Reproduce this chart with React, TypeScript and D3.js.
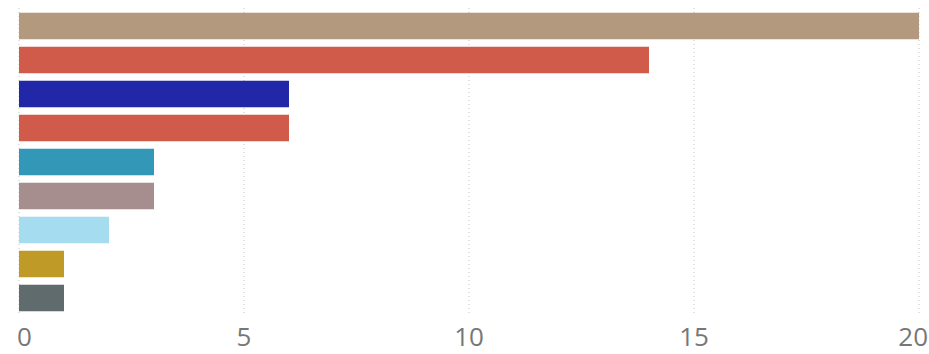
import React from "react";
import * as d3 from "d3";

const categories = ["A", "B", "C", "D", "E", "F", "G", "H", "I"];
const values = [20, 14, 6, 6, 3, 3, 2, 1, 1];
const colors = ["#B39A7E", "#D05B4A", "#2227A8", "#D05B4A", "#3398B8", "#A68E8E", "#A6DCEF", "#BF9A27", "#5F6B6D"];
const ticks = [0, 5, 10, 15, 20];

export default function App() {
  const W = 929, H = 354;
  const x = d3.scaleLinear().domain([0, 20]).range([19, 919]);
  const y = d3.scaleBand<string>().domain(categories).range([9, 315]).paddingInner(0.22).paddingOuter(0.11);
  return (
    <svg width={W} height={H} style={{ position: "absolute", left: 0, top: 0 }}>
      <rect width={W} height={H} fill="#fff" />
      {ticks.map((t) => (
        <line key={"g" + t} x1={x(t)} x2={x(t)} y1={8} y2={316} stroke="#c4c4c4" strokeWidth={1} strokeDasharray="1,3" />
      ))}
      {categories.map((c, i) => (
        <rect key={c} x={x(0)} y={y(c)} width={x(values[i]) - x(0)} height={y.bandwidth()} fill={colors[i]} />
      ))}
      {ticks.map((t, i) => (
        <text
          key={"t" + t}
          x={i === 0 ? x(t) - 2 : i === ticks.length - 1 ? x(t) + 9 : x(t)}
          y={346}
          textAnchor={i === 0 ? "start" : i === ticks.length - 1 ? "end" : "middle"}
          fontFamily="'Open Sans', sans-serif"
          fontSize={26}
          fill="#777"
        >
          {t}
        </text>
      ))}
    </svg>
  );
}
